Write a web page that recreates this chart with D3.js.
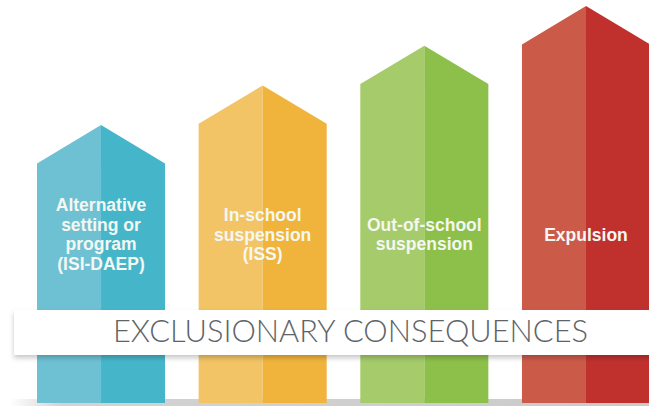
<html>
<script src='https://d3js.org/d3.v7.min.js'></script>
<style>
  body { margin: 0; background: #fff; }
  .lbl { font-family: "Liberation Sans", Arial, sans-serif; font-weight: bold; fill: #f4f7f2; }
  .banner { font-family: "Lato", "Roboto", sans-serif; font-weight: 300; fill: #5e6468; }
</style>
<body onload='init()'>
<svg width=649 height=406></svg>
<script>
// data
var categories = ["Alternative setting or program (ISI-DAEP)", "In-school suspension (ISS)", "Out-of-school suspension", "Expulsion"];
var labelLines = [["Alternative", "setting or", "program", "(ISI-DAEP)"], ["In-school", "suspension", "(ISS)"], ["Out-of-school", "suspension"], ["Expulsion"]];
var levels = [70, 80, 90, 100];   // relative arrow height (tip)
var lightColors = ["#6dc1d3", "#f3c465", "#a5cb6b", "#cc5a49"];
var darkColors  = ["#45b6ca", "#f0b43c", "#8dc04b", "#c0312e"];
var bannerText = "EXCLUSIONARY CONSEQUENCES";

function init() {
  var svg = d3.select("svg");
  var base = 403;

  var x = d3.scaleBand(categories, [37, 650]).paddingInner(0.208).paddingOuter(0);
  var y = d3.scaleLinear([0, 100], [base, 6]);
  var bw = x.bandwidth();
  var drop = bw * 0.3;

  var defs = svg.append("defs");
  var floor = defs.append("linearGradient").attr("id", "floor").attr("x1", 0).attr("x2", 1);
  floor.append("stop").attr("offset", 0).attr("stop-color", "#fff");
  floor.append("stop").attr("offset", 0.08).attr("stop-color", "#c8c8c8");
  floor.append("stop").attr("offset", 1).attr("stop-color", "#bdbdbd");
  var sh = defs.append("filter").attr("id", "sh").attr("x", "-5%").attr("y", "-30%").attr("width", "110%").attr("height", "170%");
  sh.append("feDropShadow").attr("dx", 0).attr("dy", 3).attr("stdDeviation", 2.5).attr("flood-color", "#000").attr("flood-opacity", 0.22);

  // floor shadow
  svg.append("rect").attr("x", 10).attr("y", 399).attr("width", 639).attr("height", 7)
    .attr("fill", "url(#floor)").attr("opacity", 0.8);

  var g = svg.append("g").selectAll("g").data(categories).join("g");

  // left (light) half of each arrow
  g.append("path")
    .attr("fill", function(d, i) { return lightColors[i]; })
    .attr("d", function(d, i) {
      var x0 = x(d), xm = x0 + bw / 2, t = y(levels[i]);
      return "M" + x0 + "," + base + "V" + (t + drop) + "L" + xm + "," + t + "V" + base + "Z";
    });
  // right (dark) half
  g.append("path")
    .attr("fill", function(d, i) { return darkColors[i]; })
    .attr("d", function(d, i) {
      var x0 = x(d), xm = x0 + bw / 2, x1 = x0 + bw, t = y(levels[i]);
      return "M" + xm + "," + base + "V" + t + "L" + x1 + "," + (t + drop) + "V" + base + "Z";
    });

  // labels
  var lh = 19.5, mid = 234;
  g.each(function(d, i) {
    var lines = labelLines[i];
    var t = d3.select(this).append("text").attr("class", "lbl")
      .attr("text-anchor", "middle").attr("font-size", 17.5);
    lines.forEach(function(s, j) {
      t.append("tspan").attr("x", x(d) + bw / 2)
        .attr("y", mid - (lines.length - 1) * lh / 2 + 6.5 + j * lh).text(s);
    });
  });

  // banner
  svg.append("rect").attr("x", 14).attr("y", 310).attr("width", 660).attr("height", 45)
    .attr("fill", "#fff").attr("filter", "url(#sh)");
  svg.append("text").attr("class", "banner")
    .attr("x", 113).attr("y", 342).attr("font-size", 32)
    .attr("textLength", 475).attr("lengthAdjust", "spacingAndGlyphs")
    .text(bannerText);
}
</script>
</body>
</html>
